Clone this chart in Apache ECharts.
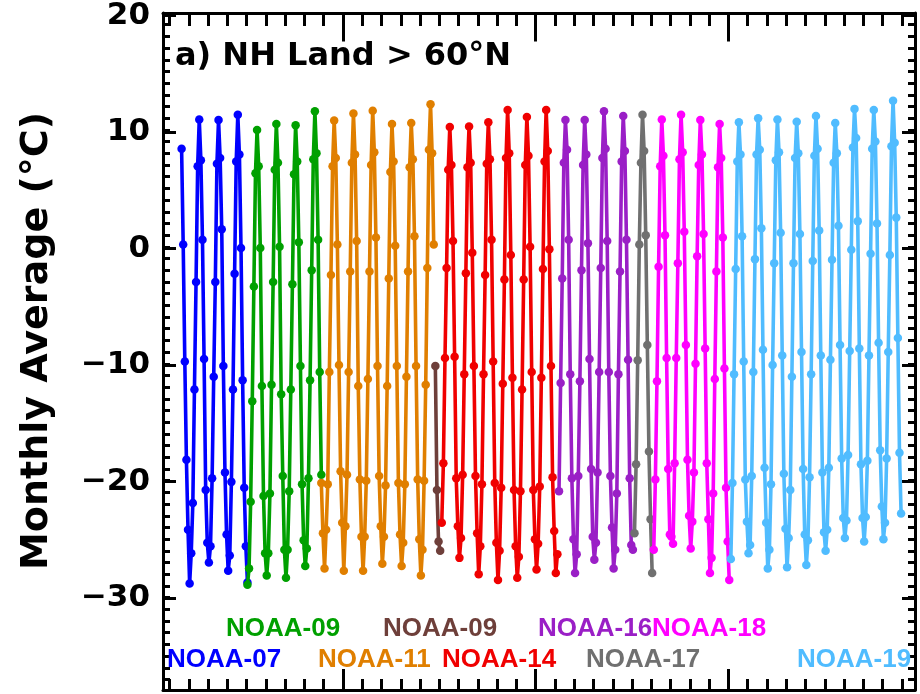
<!DOCTYPE html>
<html>
<head>
<meta charset="utf-8">
<script src="https://cdn.jsdelivr.net/npm/echarts@6/dist/echarts.min.js"></script>
<style>
  html, body { margin: 0; padding: 0; background: #fff; }
  #main { width: 920px; height: 694px; }
</style>
</head>
<body>
<div id="main"></div>
<script>
// monthly averages, NH land > 60N, one list per satellite, [year, month] of first value
var noaa07Start = [1981, 8];
var noaa07 = [8.4, 0.2, -9.8, -18.2, -24.2,
  -28.8, -26.2, -21.9, -12.2, -3.0, 6.9, 10.9, 7.4, 0.6, -9.6, -20.8, -25.3,
  -27.0, -25.6, -19.8, -11.1, -3.0, 7.1, 10.85, 7.6, 1.5, -10.2, -19.3, -24.6,
  -27.7, -26.4, -20.1, -12.2, -2.3, 7.3, 11.3, 7.9, -0.1, -11.4, -20.6, -25.6,
  -28.7];

var noaa09Start = [1985, 1];
var noaa09 = [-28.9, -27.5, -21.8, -13.2, -3.4, 6.3, 10.0, 6.9, -0.1, -11.9, -21.3, -26.2,
  -28.1, -26.2, -21.1, -11.8, -3.0, 6.6, 10.5, 7.2, 0.0, -12.6, -19.6, -25.9,
  -28.3, -25.9, -20.9, -12.2, -3.2, 6.2, 10.4, 7.3, 0.4, -10.2, -20.3, -25.1,
  -27.3, -25.8, -19.8, -11.4, -2.0, 7.5, 11.6, 8.0, 0.6, -10.7, -19.5];

var noaa11Start = [1988, 11];
var noaa11 = [-20.2, -24.5,
  -27.5, -24.2, -20.3, -10.7, -2.4, 6.9, 10.8, 7.6, 0.2, -10.1, -19.2, -23.6,
  -27.7, -23.9, -19.5, -10.7, -2.1, 7.2, 11.4, 7.9, 0.5, -11.9, -19.9, -24.8,
  -27.7, -24.8, -20.0, -11.3, -2.1, 7.0, 11.65, 8.1, 0.8, -10.2, -19.6, -23.9,
  -27.1, -24.8, -20.4, -11.9, -2.7, 6.4, 10.5, 7.3, 0.1, -10.2, -20.2, -24.6,
  -27.3, -25.3, -20.3, -11.1, -2.1, 6.8, 10.6, 7.5, 0.9, -10.2, -19.9, -25.0,
  -28.1, -25.9, -20.0, -11.8, -1.8, 8.3, 12.2, 8.0, 0.2];

var noaa09bStart = [1994, 10];
var noaa09b = [-10.2, -20.8, -25.2, -26.0];

var noaa14Start = [1995, 2];
var noaa14 = [-23.6, -18.5, -9.5, -1.8, 6.6, 10.25, 7.0, 0.5, -9.4, -19.8, -23.9,
  -26.6, -24.9, -19.5, -10.9, -2.25, 6.8, 10.3, 7.2, -0.5, -10.2, -19.6, -24.5,
  -28.0, -25.6, -20.3, -10.9, -2.4, 7.1, 10.65, 7.5, 0.6, -9.8, -20.2, -25.3,
  -28.5, -26.0, -20.6, -11.7, -2.8, 7.6, 11.7, 8.0, -0.7, -11.2, -20.8, -25.6,
  -28.3, -26.5, -20.9, -12.2, -2.8, 7.0, 11.1, 7.8, 0.0, -10.7, -20.8, -25.0,
  -27.6, -25.4, -20.5, -11.2, -1.9, 7.3, 11.7, 8.2, -0.2, -10.2, -19.7, -24.3,
  -27.9, -26.3];

var noaa16Start = [2001, 3];
var noaa16 = [-20.9, -11.65, -2.7, 7.2, 10.85, 8.3, 0.6, -10.9, -19.8, -25.0,
  -27.9, -26.3, -19.6, -11.5, -2.0, 7.0, 10.85, 7.9, 0.3, -9.6, -19.0, -24.8,
  -26.75, -25.3, -19.3, -10.7, -1.8, 7.6, 11.6, 8.4, 0.5, -10.7, -19.6, -24.0,
  -27.5, -25.9, -21.1, -10.9, -2.1, 7.3, 11.2, 8.2, 0.6, -9.65, -19.8, -25.5,
  -25.9];

var noaa17Start = [2005, 2];
var noaa17 = [-24.5, -18.6, -9.7, 0.2, 7.2, 11.3, 8.2, 1.0, -8.4, -17.5, -23.3,
  -27.9];

var noaa18Start = [2006, 2];
var noaa18 = [-25.9, -19.9, -11.5, -1.7, 6.9, 10.9, 7.8, 1.0, -9.5, -19.0, -24.6,
  -24.8, -25.4, -18.5, -9.5, -1.4, 7.5, 11.3, 8.1, 1.3, -8.4, -18.2, -23.0,
  -25.8, -23.5, -19.3, -10.0, -0.8, 7.0, 10.85, 7.9, 1.1, -8.7, -18.5, -23.3,
  -27.9, -26.6, -21.1, -11.3, -2.1, 6.8, 10.5, 7.6, 0.8, -10.4, -20.6, -25.2,
  -28.5];

var noaa19Start = [2010, 2];
var noaa19 = [-26.7, -20.2, -10.9, -1.9, 7.3, 10.65, 7.9, 0.9, -9.8, -19.9, -23.5,
  -26.2, -25.5, -19.6, -10.7, -1.05, 7.9, 11.0, 8.3, 1.6, -8.8, -18.9, -23.6,
  -27.5, -25.9, -20.3, -10.1, -1.4, 7.4, 10.9, 8.1, 1.2, -9.3, -19.4, -24.1,
  -27.4, -24.9, -20.8, -11.1, -1.4, 7.6, 10.7, 8.0, 1.1, -9.0, -19.0, -24.6,
  -27.2, -25.1, -19.7, -10.9, -1.2, 7.8, 11.2, 8.4, 1.4, -9.3, -19.3, -24.4,
  -26.0, -24.2, -18.9, -9.65, -1.1, 7.2, 10.6, 8.0, 1.8, -8.4, -18.1, -23.2,
  -24.9, -23.4, -17.8, -8.9, -0.25, 8.5, 11.8, 9.3, 2.2, -8.7, -18.6, -23.2,
  -25.2, -23.1, -18.3, -9.3, -0.6, 8.4, 11.7, 9.0, 2.0, -8.2, -17.4, -22.2,
  -25.0, -23.6, -18.1, -9.0, -0.7, 8.6, 12.5, 8.9, 2.5, -7.8, -17.6, -22.8];

var satNames = ['NOAA-07', 'NOAA-09', 'NOAA-11', 'NOAA-09', 'NOAA-14', 'NOAA-16', 'NOAA-17', 'NOAA-18', 'NOAA-19'];
var satColors = ['#0000ff', '#00a000', '#e07f00', '#6e3f3a', '#f00000', '#9a1fc6', '#707070', '#ff00ff', '#50bcff'];

var xMin = 1980.66, xMax = 2019.68;
var yMin = -37.9, yMax = 20;
var xMajorTicks = [1990, 2000, 2010];
var yMajorTicks = [-30, -20, -10, 0, 10, 20];

var xMinorTicks = [];
for (var yr = 1981; yr <= 2019; yr++) xMinorTicks.push(yr);
var yMinorTicks = [];
for (var yv = -37; yv <= 19; yv++) yMinorTicks.push(yv);

function monthly(start, vals) {
  return vals.map(function (v, i) {
    var m = start[1] - 1 + i;
    var year = start[0] + Math.floor(m / 12);
    return [year + ((m % 12) + 0.5) / 12, v];
  });
}

var allData = [
  monthly(noaa07Start, noaa07),
  monthly(noaa09Start, noaa09),
  monthly(noaa11Start, noaa11),
  monthly(noaa09bStart, noaa09b),
  monthly(noaa14Start, noaa14),
  monthly(noaa16Start, noaa16),
  monthly(noaa17Start, noaa17),
  monthly(noaa18Start, noaa18),
  monthly(noaa19Start, noaa19)
];

var myChart = echarts.init(document.getElementById('main'));

function xAx(grid, pos, ticks, len, line) {
  return {
    gridIndex: grid, type: 'value', position: pos, min: xMin, max: xMax,
    axisLine: { show: line, onZero: false, lineStyle: { color: '#000', width: 3 } },
    axisTick: { show: true, inside: true, length: len, customValues: ticks, lineStyle: { color: '#000', width: 3 } },
    axisLabel: { show: false },
    splitLine: { show: false }
  };
}
function yAx(grid, pos, ticks, len, line, labels) {
  return {
    gridIndex: grid, type: 'value', position: pos, min: yMin, max: yMax,
    axisLine: { show: line, onZero: false, lineStyle: { color: '#000', width: 3 } },
    axisTick: { show: true, inside: true, length: len, customValues: ticks, lineStyle: { color: '#000', width: 3 } },
    axisLabel: labels ? {
      show: true, customValues: ticks, margin: 13,
      fontFamily: 'DejaVu Sans', fontWeight: 'bold', fontSize: 31, color: '#000',
      formatter: function (v) { return v < 0 ? '\u2212' + Math.abs(v) : String(v); }
    } : { show: false },
    splitLine: { show: false }
  };
}

var series = allData.map(function (d, i) {
  return {
    name: satNames[i] + '_' + i,
    type: 'line',
    xAxisIndex: 0,
    yAxisIndex: 0,
    data: d,
    symbol: 'circle',
    symbolSize: 8.5,
    showSymbol: true,
    lineStyle: { color: satColors[i], width: 3.6 },
    itemStyle: { color: satColors[i] },
    z: 2 + i
  };
});

// legend labels as coloured text, two staggered rows
var labelPos = [[167, 660], [226, 629], [318, 660], [383, 629], [442, 660], [538, 629], [586, 660], [652, 629], [797, 660]];
var graphics = labelPos.map(function (p, i) {
  return {
    type: 'text', x: p[0], y: p[1], z: 100,
    style: { text: satNames[i], fill: satColors[i], font: 'bold 26px "Liberation Sans"', align: 'left', verticalAlign: 'middle' }
  };
});
graphics.push({
  type: 'text', x: 175, y: 57, z: 100,
  style: { text: 'a) NH Land > 60\u00b0N', fill: '#000', font: 'bold 32px "DejaVu Sans"', align: 'left', verticalAlign: 'middle' }
});
graphics.push({
  type: 'text', x: 37, y: 341, rotation: Math.PI / 2, z: 100,
  style: { text: 'Monthly Average (\u00b0C)', fill: '#000', font: 'bold 38px "DejaVu Sans"', align: 'center', verticalAlign: 'middle' }
});

var option = {
  animation: false,
  backgroundColor: '#fff',
  grid: [
    { left: 163, right: 5, top: 13, bottom: 4 },
    { left: 163, right: 5, top: 13, bottom: 4 }
  ],
  xAxis: [
    xAx(0, 'bottom', xMinorTicks, 11, true),
    xAx(0, 'top', xMinorTicks, 13, true),
    xAx(1, 'bottom', xMajorTicks, 21, false),
    xAx(1, 'top', xMajorTicks, 26, false)
  ],
  yAxis: [
    yAx(0, 'left', yMinorTicks, 7, true, false),
    yAx(0, 'right', yMinorTicks, 7, true, false),
    yAx(1, 'left', yMajorTicks, 13, false, true),
    yAx(1, 'right', yMajorTicks, 13, false, false)
  ],
  series: series,
  graphic: graphics
};
myChart.setOption(option);
</script>
</body>
</html>
